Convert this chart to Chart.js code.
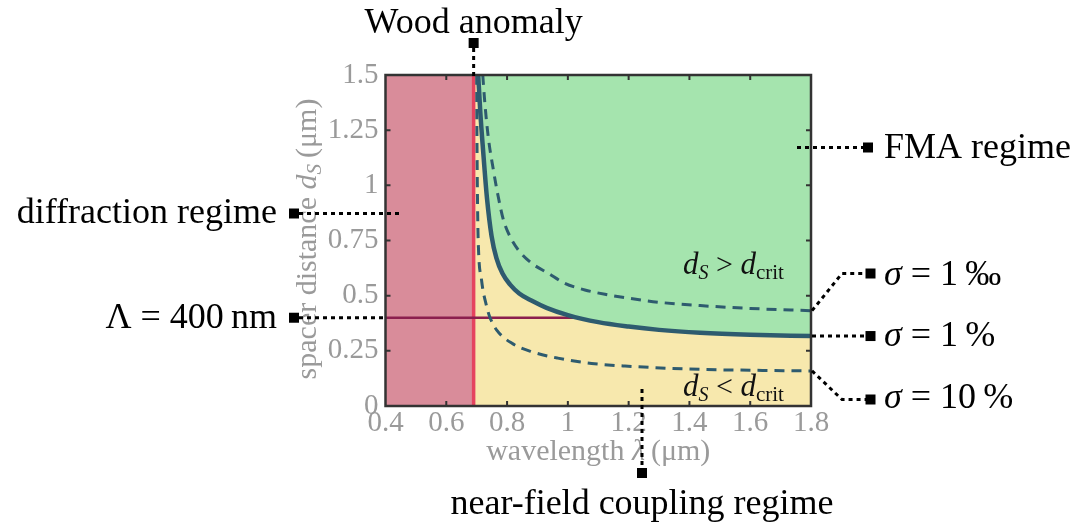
<!DOCTYPE html>
<html>
<head>
<meta charset="utf-8">
<script src="https://cdn.jsdelivr.net/npm/chart.js@4.4.1/dist/chart.umd.min.js"></script>
<style>
html,body{margin:0;padding:0;background:#fff;}
#wrap{width:1079px;height:527px;position:relative;}
</style>
</head>
<body>
<div id="wrap"><canvas id="c" width="1079" height="527"></canvas></div>
<script>
// ---- data ----
const xTicks = [0.4, 0.6, 0.8, 1, 1.2, 1.4, 1.6, 1.8];
const yTicks = [0, 0.25, 0.5, 0.75, 1, 1.25, 1.5];
const xRange = [0.4, 1.8];
const yRange = [0, 1.5];
const woodLambda = 0.69;      // Wood anomaly wavelength (µm)
const periodD = 0.4;          // Λ = 400 nm
// σ = 1 % (critical distance, solid)
const solidLambda = [0.705, 0.712, 0.721, 0.734, 0.749, 0.765, 0.785, 0.81, 0.84, 0.88, 0.93, 1.0, 1.1, 1.2, 1.3, 1.435, 1.6, 1.8];
const solidD      = [1.5,   1.33,  1.16,  0.94,  0.77,  0.67,  0.6,   0.55, 0.51, 0.478, 0.445, 0.412, 0.38, 0.36, 0.345, 0.332, 0.323, 0.317];
// σ = 1 ‰ (upper dashed)
const upperLambda = [0.72, 0.727, 0.738, 0.755, 0.771, 0.788, 0.81, 0.837, 0.881, 0.936, 0.99, 1.056, 1.122, 1.188, 1.3, 1.435, 1.6, 1.8];
const upperD      = [1.5,  1.371, 1.22,  1.069, 0.948, 0.843, 0.767, 0.707, 0.647, 0.601, 0.556, 0.526, 0.506, 0.491, 0.47, 0.455, 0.442, 0.432];
// σ = 10 % (lower dashed)
const lowerLambda = [0.70, 0.701, 0.703, 0.705, 0.716, 0.733, 0.744, 0.766, 0.815, 0.881, 0.967, 1.078, 1.188, 1.435, 1.6, 1.8];
const lowerD      = [1.5,  1.2,   0.9,   0.75,  0.571, 0.45,  0.4,   0.344, 0.285, 0.246, 0.217, 0.193, 0.181, 0.166, 0.162, 0.159];

const pts = (xs, ys) => xs.map((x, i) => ({x: x, y: ys[i]}));

const FONT = "'Liberation Serif', 'DejaVu Serif', serif";
const GRAY = '#9a9a9a';
const CURVE = '#2e5b6f';

function drawRuns(ctx, x, y, runs, align) {
  let total = 0;
  runs.forEach(r => { ctx.font = r.font; r.w = ctx.measureText(r.t).width; total += r.w; });
  let cx = align === 'center' ? x - total / 2 : (align === 'right' ? x - total : x);
  ctx.textAlign = 'left';
  ctx.textBaseline = 'alphabetic';
  runs.forEach(r => { ctx.font = r.font; ctx.fillText(r.t, cx, y + (r.dy || 0)); cx += r.w; });
}

const framePlugin = {
  id: 'frame',
  afterDatasetsDraw(chart) {
    const ctx = chart.ctx, a = chart.chartArea;
    const xs = chart.scales.x, ys = chart.scales.y;
    ctx.save();
    ctx.strokeStyle = '#333';
    ctx.lineWidth = 2.5;
    ctx.setLineDash([]);
    ctx.strokeRect(a.left, a.top, a.right - a.left, a.bottom - a.top);
    ctx.lineWidth = 2;
    const L = 5;
    xTicks.forEach(v => {
      if (v === xRange[0] || v === xRange[1]) return;
      const px = xs.getPixelForValue(v);
      ctx.beginPath();
      ctx.moveTo(px, a.bottom); ctx.lineTo(px, a.bottom - L);
      ctx.moveTo(px, a.top); ctx.lineTo(px, a.top + L);
      ctx.stroke();
    });
    yTicks.forEach(v => {
      if (v === yRange[0] || v === yRange[1]) return;
      const py = ys.getPixelForValue(v);
      ctx.beginPath();
      ctx.moveTo(a.left, py); ctx.lineTo(a.left + L, py);
      ctx.moveTo(a.right, py); ctx.lineTo(a.right - L, py);
      ctx.stroke();
    });
    ctx.restore();
  },
  afterDraw(chart) {
    const ctx = chart.ctx, a = chart.chartArea;
    const xs = chart.scales.x, ys = chart.scales.y;
    ctx.save();
    // axis titles
    ctx.fillStyle = GRAY;
    drawRuns(ctx, (a.left + a.right) / 2, 460, [
      {t: 'wavelength ', font: '30px ' + FONT},
      {t: 'λ', font: 'italic 30px ' + FONT},
      {t: '\u2009(μm)', font: '30px ' + FONT}
    ], 'center');
    ctx.save();
    ctx.translate(316, 239);
    ctx.rotate(-Math.PI / 2);
    drawRuns(ctx, 0, 0, [
      {t: 'spacer distance ', font: '30px ' + FONT},
      {t: 'd', font: 'italic 30px ' + FONT},
      {t: 'S', font: 'italic 21px ' + FONT, dy: 5},
      {t: '\u2009(μm)', font: '30px ' + FONT}
    ], 'center');
    ctx.restore();

    // in-plot labels
    ctx.fillStyle = '#111';
    const relRuns = (sym) => [
      {t: 'd', font: 'italic 31px ' + FONT},
      {t: 'S', font: 'italic 20px ' + FONT, dy: 5},
      {t: ' ' + sym + ' ', font: '30px ' + FONT},
      {t: 'd', font: 'italic 31px ' + FONT},
      {t: 'crit', font: '21px ' + FONT, dy: 5}
    ];
    drawRuns(ctx, 683, 274, relRuns('>'), 'left');
    drawRuns(ctx, 683, 396, relRuns('<'), 'left');

    // leaders
    ctx.fillStyle = '#000';
    ctx.strokeStyle = '#000';
    ctx.lineWidth = 3;
    ctx.setLineDash([4, 4]);
    const line = (p) => { ctx.beginPath(); ctx.moveTo(p[0][0], p[0][1]); for (let i = 1; i < p.length; i++) ctx.lineTo(p[i][0], p[i][1]); ctx.stroke(); };
    const sq = (x, y) => ctx.fillRect(x - 5, y - 5, 10, 10);
    const woodX = xs.getPixelForValue(woodLambda);
    const dPix = ys.getPixelForValue(periodD);
    line([[woodX, 48], [woodX, a.top + 4]]); sq(woodX, 43);
    line([[797, 147.5], [864, 147.5]]); sq(868, 147.5);
    line([[299, 213.5], [399, 213.5]]); sq(294, 213.5);
    line([[299, dPix], [a.left, dPix]]); sq(294, dPix);
    const yUp = ys.getPixelForValue(upperD[upperD.length - 1]);
    const ySo = ys.getPixelForValue(solidD[solidD.length - 1]);
    const yLo = ys.getPixelForValue(lowerD[lowerD.length - 1]);
    line([[a.right + 1, yUp], [842, 273.5], [866, 273.5]]); sq(870.5, 273.5);
    line([[a.right + 1, ySo], [866, ySo]]); sq(870.5, ySo);
    line([[a.right + 1, yLo], [842, 399.5], [866, 399.5]]); sq(870.5, 399.5);
    line([[642, 389], [642, 468]]); sq(642, 473);
    ctx.setLineDash([]);

    // annotation texts
    ctx.fillStyle = '#000';
    const F = '36px ' + FONT, FI = 'italic 36px ' + FONT;
    drawRuns(ctx, woodX, 33, [{t: 'Wood anomaly', font: F}], 'center');
    drawRuns(ctx, 884, 158, [{t: 'FMA regime', font: F}], 'left');
    drawRuns(ctx, 277, 223, [{t: 'diffraction regime', font: F}], 'right');
    drawRuns(ctx, 277, 328, [{t: 'Λ = 400\u2009nm', font: F}], 'right');
    drawRuns(ctx, 884, 285, [{t: 'σ', font: FI}, {t: ' = 1\u2009‰', font: F}], 'left');
    drawRuns(ctx, 884, 346, [{t: 'σ', font: FI}, {t: ' = 1\u2009%', font: F}], 'left');
    drawRuns(ctx, 884, 408, [{t: 'σ', font: FI}, {t: ' = 10\u2009%', font: F}], 'left');
    drawRuns(ctx, 642, 514, [{t: 'near-field coupling regime', font: F}], 'center');
    ctx.restore();
  }
};

new Chart(document.getElementById('c'), {
  type: 'scatter',
  data: {
    datasets: [
      { label: 'σ = 1 %', data: pts(solidLambda, solidD), showLine: true, borderColor: CURVE, borderWidth: 4.5,
        fill: 'end', backgroundColor: '#a5e4ae', pointRadius: 0, cubicInterpolationMode: 'monotone', order: 3 },
      { label: 'σ = 1 ‰', data: pts(upperLambda, upperD), showLine: true, borderColor: CURVE, borderWidth: 3,
        borderDash: [10, 7], fill: false, pointRadius: 0, cubicInterpolationMode: 'monotone', order: 1 },
      { label: 'σ = 10 %', data: pts(lowerLambda, lowerD), showLine: true, borderColor: CURVE, borderWidth: 3,
        borderDash: [10, 7], fill: false, pointRadius: 0, cubicInterpolationMode: 'monotone', order: 2 },
      { label: 'Λ', data: [{x: xRange[0], y: periodD}, {x: xRange[1], y: periodD}], showLine: true,
        borderColor: '#8c1f4e', borderWidth: 2.5, fill: false, pointRadius: 0, order: 4 },
      { label: 'Wood', data: [{x: woodLambda, y: yRange[0]}, {x: woodLambda, y: yRange[1]}], showLine: true,
        borderColor: '#e5435f', borderWidth: 3.5, fill: false, pointRadius: 0, order: 5 },
      { label: 'near-field', data: [{x: woodLambda, y: yRange[1]}, {x: xRange[1], y: yRange[1]}], showLine: true,
        borderWidth: 0, borderColor: 'rgba(0,0,0,0)', fill: 'origin', backgroundColor: '#f7e8ad', pointRadius: 0, order: 6 },
      { label: 'diffraction', data: [{x: xRange[0], y: yRange[1]}, {x: woodLambda, y: yRange[1]}], showLine: true,
        borderWidth: 0, borderColor: 'rgba(0,0,0,0)', fill: 'origin', backgroundColor: '#d98c9a', pointRadius: 0, order: 7 }
    ]
  },
  options: {
    responsive: false,
    animation: false,
    events: [],
    layout: { padding: { left: 0, top: 75, right: 268, bottom: 0 } },
    plugins: { legend: { display: false }, tooltip: { enabled: false }, title: { display: false } },
    scales: {
      x: {
        type: 'linear', min: xRange[0], max: xRange[1],
        afterBuildTicks: s => { s.ticks = xTicks.map(v => ({value: v})); },
        afterFit: s => { s.height = 121; },
        grid: { display: false, drawTicks: false },
        border: { display: false },
        ticks: { color: GRAY, font: { family: FONT, size: 29 }, padding: 0, autoSkip: false, maxRotation: 0,
                 callback: v => String(v) }
      },
      y: {
        type: 'linear', min: yRange[0], max: yRange[1],
        afterBuildTicks: s => { s.ticks = yTicks.map(v => ({value: v})); },
        afterFit: s => { s.width = 385.5; },
        grid: { display: false, drawTicks: false },
        border: { display: false },
        ticks: { color: GRAY, font: { family: FONT, size: 29 }, padding: 7, autoSkip: false,
                 callback: v => String(v) }
      }
    }
  },
  plugins: [framePlugin]
});
</script>
</body>
</html>
